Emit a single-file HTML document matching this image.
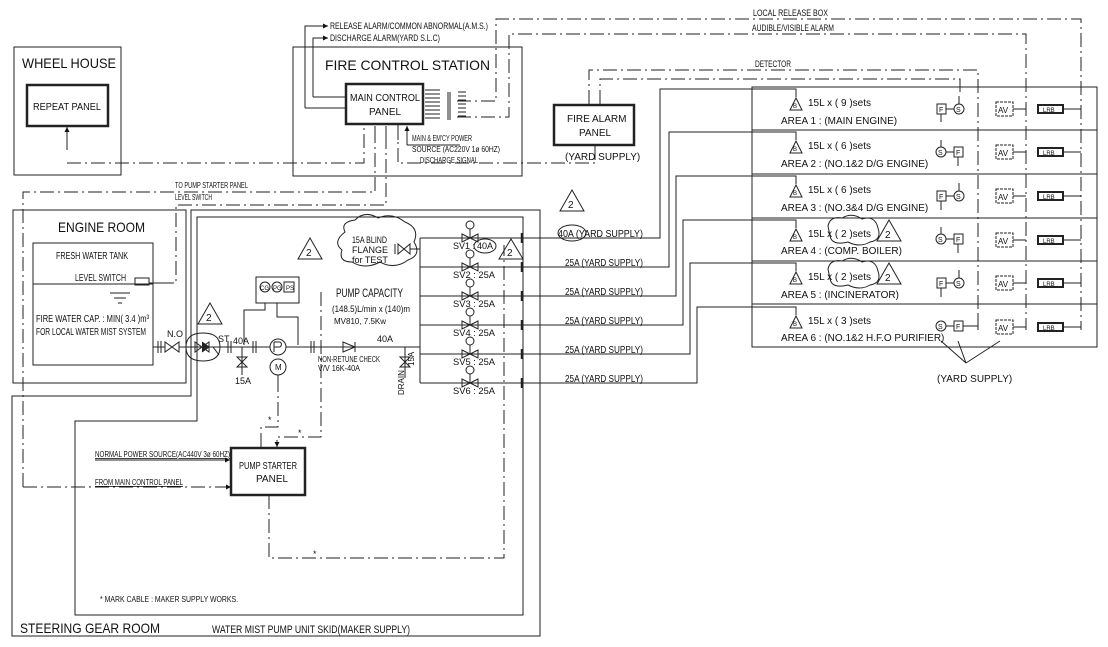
<!DOCTYPE html>
<html><head><meta charset="utf-8"><style>
html,body{margin:0;padding:0;background:#fff;width:1108px;height:647px;overflow:hidden}
svg{display:block}
text{font-family:"Liberation Sans Narrow","Liberation Sans",sans-serif;fill:#111}
.s{font-size:9px}
.m{font-size:10px}
.l{font-size:14px;font-family:"Liberation Sans",sans-serif;fill:#333}
</style></head><body>
<svg width="1108" height="647" viewBox="0 0 1108 647" xmlns="http://www.w3.org/2000/svg">
<defs>
<marker id="a" markerWidth="6" markerHeight="6" refX="5" refY="3" orient="auto"><path d="M0,0.5 L5,3 L0,5.5z" fill="#111"/></marker>
</defs>
<g fill="none" stroke="#222" stroke-width="1">
<rect x="14" y="47" width="107" height="128"/>
<rect x="27" y="85" width="81" height="41" stroke-width="2.5"/>
<rect x="293" y="47" width="229" height="129"/>
<rect x="346" y="84" width="77" height="40" stroke-width="2.5"/>
<rect x="554" y="105" width="80" height="40" stroke-width="2.5"/>
<rect x="13" y="210" width="173" height="173"/>
<rect x="33" y="243" width="120" height="122"/>
<line x1="33" y1="284" x2="153" y2="284"/>
<path d="M191,210 H540 V636 H12 V396 H191 Z"/>
<path d="M197,217 H523 V615 H75 V421 H197 Z"/>
<rect x="231" y="448" width="74" height="47" stroke-width="2.5"/>
<rect x="752" y="87" width="345" height="260"/>
<line x1="752" y1="130" x2="1097" y2="130"/><line x1="752" y1="174" x2="1097" y2="174"/>
<line x1="752" y1="218" x2="1097" y2="218"/><line x1="752" y1="261" x2="1097" y2="261"/>
<line x1="752" y1="304" x2="1097" y2="304"/>
</g>
<g fill="none" stroke="#222" stroke-width="1" stroke-dasharray="14,4,2,4">
<path d="M67,163 H364 V124"/>
<path d="M23,487 V192 H375 V124"/>
<path d="M160,283 H176 V205 H386 V124"/>
<path d="M595,145 V163 H398 V124"/>
<path d="M457,101 H496 V19 H1081 V330"/>
<path d="M457,117 H509 V34 H1026 V330"/>
<path d="M589,104 V70 H978 V330"/>
<path d="M600,104 V79 H960 V96"/>
<path d="M23,487 H231" marker-end="url(#a)"/>
<path d="M278,378 V427 H261 V448"/>
<path d="M321,292 H321 V437 H277 V447" marker-end="url(#a)"/>
<path d="M269,495 V558 H504 V245"/>
<path d="M475,238 H503"/><path d="M475,267 H503"/><path d="M475,296 H503"/>
<path d="M475,325 H503"/><path d="M475,354 H503"/><path d="M475,383 H503"/>
</g>
<g fill="none" stroke="#222" stroke-width="1">
<path d="M67,150 V127" marker-end="url(#a)"/>
<path d="M305,108 V26 H328" marker-end="url(#a)"/>
<path d="M313,97 V38 H328" marker-end="url(#a)"/>
<path d="M305,108 H346 M313,97 H346"/>
<path d="M375,140 V126 M386,140 V126 M398,140 V126 M407,145 V126" marker-end="url(#a)"/>
<path d="M407,145 H460"/>
<path d="M425,90 H440 M425,94 H440 M425,98 H440 M425,102 H440 M425,106 H440 M425,110 H440 M425,114 H440 M425,118 H440"/>
<path d="M448,92 V120 M450,92 V120"/>
<path d="M458,92 H466 M458,96 H466 M458,100 H466 M458,104 H466 M458,108 H466 M458,112 H466 M458,116 H466"/>
<path d="M595,145 V160"/>
<path d="M95,460 H230" marker-end="url(#a)"/>
<path d="M153,347 H420"/>
<path d="M420,238 V383"/>
<path d="M420,238 H660 V89 H757 M420,267 H669 V132 H757 M420,296 H676 V176 H757 M420,325 H683 V220 H757 M420,354 H690 V263 H757 M420,383 H697 V307 H757"/>
<path d="M420,249 H410"/>
<path d="M757,89 H796 V97 M757,132 H796 V140 M757,176 H796 V184 M757,220 H796 V228 M757,263 H796 V271 M757,307 H796 V315"/>
<path d="M278,380 V372"/>
<path d="M242,347 V375 M405,347 V378"/>
<rect x="256" y="277" width="43" height="26"/>
<circle cx="265" cy="287" r="5"/><circle cx="277" cy="287" r="5"/><rect x="284" y="282" width="10" height="10"/>
<path d="M265,303 V310 H244 V345 M277,303 V317 H298 V345"/>
<circle cx="278" cy="347" r="8" fill="#fff"/>
<path d="M274,342 V352 M274,342 H280 Q283,344 280,347 H274"/>
<circle cx="278" cy="367" r="8" fill="#fff"/>
<path d="M165,342 L179,352 V342 L165,352 Z" fill="#fff"/>
<path d="M195,342 L209,352 V342 L195,352 Z"/><path d="M202,342 L209,347 L202,352" fill="#222"/>
<path d="M343,342 V352 L355,347 Z M355,342 V352"/>
<path d="M237,357 H247 L237,367 H247 Z"/>
<path d="M400,357 H410 L400,367 H410 Z"/>
<path d="M158,341 V353 M161,341 V353 M228,341 V353 M231,341 V353 M253,341 V353 M256,341 V353 M311,341 V353 M314,341 V353"/>
<path d="M213,347 L219,355"/>
<path d="M186,347 Q186,333 203,333 Q220,333 220,347 Q220,361 203,361 Q186,361 186,347Z"/>
<path d="M345,232 Q340,222 355,220 Q365,210 378,218 Q392,212 405,222 Q420,228 414,242 Q422,255 408,260 Q395,270 380,262 Q365,270 352,262 Q338,262 342,250 Q332,242 345,232Z"/>
<path d="M395,244 V254 M398,244 L410,254 V244 L398,254 Z M410,249 H420"/>
<g>
<path d="M462,234 L470,238 L462,242Z M478,234 L470,238 L478,242Z"/><circle cx="470" cy="225" r="4"/><path d="M470,229 V238"/>
<path d="M462,263 L470,267 L462,271Z M478,263 L470,267 L478,271Z"/><circle cx="470" cy="254" r="4"/><path d="M470,258 V267"/>
<path d="M462,292 L470,296 L462,300Z M478,292 L470,296 L478,300Z"/><circle cx="470" cy="283" r="4"/><path d="M470,287 V296"/>
<path d="M462,321 L470,325 L462,329Z M478,321 L470,325 L478,329Z"/><circle cx="470" cy="312" r="4"/><path d="M470,316 V325"/>
<path d="M462,350 L470,354 L462,358Z M478,350 L470,354 L478,358Z"/><circle cx="470" cy="341" r="4"/><path d="M470,345 V354"/>
<path d="M462,379 L470,383 L462,387Z M478,379 L470,383 L478,387Z"/><circle cx="470" cy="370" r="4"/><path d="M470,374 V383"/>
</g>
<g stroke-width="2.5"><path d="M522,233 V243 M522,262 V272 M522,291 V301 M522,320 V330 M522,349 V359 M522,378 V388"/></g>
<rect x="135" y="278" width="14" height="7"/><path d="M149,283 H160"/>
<path d="M110,293 H130 M114,298 H126 M118,303 H122"/>
<path d="M298,259 L310,238 L322,259Z M198,324 L210,303 L222,324Z M560,211 L572,190 L584,211Z M499,259 L511,239 L523,259Z M877,241 L889,220 L901,241Z M877,284 L889,263 L901,284Z"/>
<ellipse cx="572" cy="233" rx="14" ry="8"/>
<ellipse cx="485" cy="246" rx="11" ry="7"/>
<path d="M828,226 Q830,216 842,218 Q852,212 862,219 Q875,215 878,228 Q882,240 870,242 Q860,248 848,242 Q832,246 830,236Z"/>
<path d="M828,269 Q830,259 842,261 Q852,255 862,262 Q875,258 878,271 Q882,283 870,285 Q860,291 848,285 Q832,289 830,279Z"/>
<path d="M941,341 L966,363 M958,341 L966,363 M1000,341 L966,363"/>
</g>
<g fill="none" stroke="#222" stroke-width="1">
<g id="r1">
<path d="M790,110 L796,98 L802,110Z"/>
<rect x="996" y="102" width="17" height="14" stroke-dasharray="3,1"/><path d="M1013,109 H1026 M1063,109 H1081"/>
<rect x="1038" y="105" width="25" height="8" stroke-width="2"/>
</g>
<use href="#r1" y="43"/><use href="#r1" y="87"/><use href="#r1" y="131"/><use href="#r1" y="174"/><use href="#r1" y="218"/>
<rect x="937" y="104" width="9" height="10"/><circle cx="959" cy="109" r="5"/><path d="M946,109 H954 M941,114 V122 M959,104 V96"/>
<circle cx="941" cy="152" r="5"/><rect x="954" y="147" width="9" height="10"/><path d="M946,152 H954 M941,147 V140 M958,157 V166"/>
<rect x="937" y="191" width="9" height="10"/><circle cx="959" cy="196" r="5"/><path d="M946,196 H954 M941,201 V210 M959,191 V183"/>
<circle cx="941" cy="239" r="5"/><rect x="954" y="234" width="9" height="10"/><path d="M946,239 H954 M941,234 V227 M958,244 V253"/>
<rect x="937" y="278" width="9" height="10"/><circle cx="959" cy="283" r="5"/><path d="M946,283 H954 M941,288 V297 M959,278 V270"/>
<circle cx="941" cy="326" r="5"/><rect x="954" y="321" width="9" height="10"/><path d="M946,326 H954 M963,326 H978 V315"/>
</g>
<g class="s">
<text x="793" y="108" font-size="6">B</text><text x="793" y="151" font-size="6">B</text><text x="793" y="195" font-size="6">B</text><text x="793" y="239" font-size="6">B</text><text x="793" y="282" font-size="6">B</text><text x="793" y="326" font-size="6">B</text>
<text x="939" y="112" font-size="7">F</text><text x="956" y="112" font-size="7">S</text>
<text x="938" y="155" font-size="7">S</text><text x="956" y="155" font-size="7">F</text>
<text x="939" y="199" font-size="7">F</text><text x="956" y="199" font-size="7">S</text>
<text x="938" y="242" font-size="7">S</text><text x="956" y="242" font-size="7">F</text>
<text x="939" y="286" font-size="7">F</text><text x="956" y="286" font-size="7">S</text>
<text x="938" y="329" font-size="7">S</text><text x="956" y="329" font-size="7">F</text>
<text x="998" y="113" font-size="8">AV</text><text x="998" y="156" font-size="8">AV</text><text x="998" y="200" font-size="8">AV</text><text x="998" y="244" font-size="8">AV</text><text x="998" y="287" font-size="8">AV</text><text x="998" y="331" font-size="8">AV</text>
<text x="1043" y="112" font-size="6">LRB</text><text x="1043" y="155" font-size="6">LRB</text><text x="1043" y="199" font-size="6">LRB</text><text x="1043" y="243" font-size="6">LRB</text><text x="1043" y="286" font-size="6">LRB</text><text x="1043" y="330" font-size="6">LRB</text>
</g>
<g class="m">
<text x="808" y="106">15L x ( 9 )sets</text><text x="781" y="124">AREA 1 :  (MAIN ENGINE)</text>
<text x="808" y="149">15L x ( 6 )sets</text><text x="781" y="167">AREA 2 :  (NO.1&amp;2 D/G ENGINE)</text>
<text x="808" y="193">15L x ( 6 )sets</text><text x="781" y="211">AREA 3 :  (NO.3&amp;4 D/G ENGINE)</text>
<text x="808" y="237">15L x ( 2 )sets</text><text x="781" y="254">AREA 4 :  (COMP. BOILER)</text>
<text x="808" y="280">15L x ( 2 )sets</text><text x="781" y="298">AREA 5 :  (INCINERATOR)</text>
<text x="808" y="324">15L x ( 3 )sets</text><text x="781" y="341">AREA 6 :  (NO.1&amp;2 H.F.O PURIFIER)</text>
<text x="937" y="382">(YARD SUPPLY)</text>
<text x="885" y="238">2</text><text x="885" y="281">2</text>
</g>
<g class="l">
<text x="22" y="68" textLength="94" lengthAdjust="spacingAndGlyphs">WHEEL HOUSE</text>
<text x="325" y="70" textLength="165" lengthAdjust="spacingAndGlyphs">FIRE CONTROL STATION</text>
<text x="58" y="232" textLength="87" lengthAdjust="spacingAndGlyphs">ENGINE ROOM</text>
<text x="20" y="633" textLength="140" lengthAdjust="spacingAndGlyphs">STEERING GEAR ROOM</text>
</g>
<g class="m">
<text x="33" y="110" textLength="68" lengthAdjust="spacingAndGlyphs">REPEAT PANEL</text>
<text x="350" y="101" textLength="70" lengthAdjust="spacingAndGlyphs">MAIN CONTROL</text><text x="369" y="115">PANEL</text>
<text x="567" y="122">FIRE ALARM</text><text x="579" y="136">PANEL</text>
<text x="565" y="160">(YARD SUPPLY)</text>
<text x="239" y="469" textLength="58" lengthAdjust="spacingAndGlyphs">PUMP STARTER</text><text x="256" y="482">PANEL</text>
<text x="56" y="259" textLength="72" lengthAdjust="spacingAndGlyphs">FRESH WATER TANK</text>
<text x="75" y="281" textLength="51" lengthAdjust="spacingAndGlyphs">LEVEL SWITCH</text>
<text x="36" y="322" textLength="113" lengthAdjust="spacingAndGlyphs">FIRE WATER CAP. : MIN( 3.4 )m³</text>
<text x="36" y="335" textLength="110" lengthAdjust="spacingAndGlyphs">FOR LOCAL WATER MIST SYSTEM</text>
<text x="212" y="633" font-size="11" textLength="198" lengthAdjust="spacingAndGlyphs">WATER MIST PUMP UNIT SKID(MAKER SUPPLY)</text>
<text x="336" y="297" font-size="12" textLength="67" lengthAdjust="spacingAndGlyphs">PUMP CAPACITY</text>
<text x="558" y="237" textLength="85" lengthAdjust="spacingAndGlyphs">40A  (YARD SUPPLY)</text>
<text x="565" y="266" textLength="78" lengthAdjust="spacingAndGlyphs">25A  (YARD SUPPLY)</text>
<text x="565" y="295" textLength="78" lengthAdjust="spacingAndGlyphs">25A  (YARD SUPPLY)</text>
<text x="565" y="324" textLength="78" lengthAdjust="spacingAndGlyphs">25A  (YARD SUPPLY)</text>
<text x="565" y="353" textLength="78" lengthAdjust="spacingAndGlyphs">25A  (YARD SUPPLY)</text>
<text x="565" y="382" textLength="78" lengthAdjust="spacingAndGlyphs">25A  (YARD SUPPLY)</text>
<text x="306" y="256">2</text><text x="206" y="321">2</text><text x="568" y="208">2</text><text x="507" y="256">2</text>
</g>
<g class="s">
<text x="330" y="29" textLength="158" lengthAdjust="spacingAndGlyphs">RELEASE ALARM/COMMON ABNORMAL(A.M.S.)</text>
<text x="330" y="41" textLength="110" lengthAdjust="spacingAndGlyphs">DISCHARGE ALARM(YARD S.L.C)</text>
<text x="753" y="16" textLength="75" lengthAdjust="spacingAndGlyphs">LOCAL RELEASE BOX</text>
<text x="752" y="31" textLength="82" lengthAdjust="spacingAndGlyphs">AUDIBLE/VISIBLE ALARM</text>
<text x="755" y="67" textLength="36" lengthAdjust="spacingAndGlyphs">DETECTOR</text>
<text x="412" y="141" font-size="8" textLength="60" lengthAdjust="spacingAndGlyphs">MAIN &amp; EM'CY POWER</text>
<text x="412" y="152" font-size="8" textLength="88" lengthAdjust="spacingAndGlyphs">SOURCE (AC220V 1ø 60HZ)</text>
<text x="420" y="163" font-size="8" textLength="58" lengthAdjust="spacingAndGlyphs">DISCHARGE SIGNAL</text>
<text x="175" y="188" font-size="8" textLength="73" lengthAdjust="spacingAndGlyphs">TO PUMP STARTER PANEL</text>
<text x="175" y="200" font-size="8" textLength="37" lengthAdjust="spacingAndGlyphs">LEVEL SWITCH</text>
<text x="352" y="243" textLength="35" lengthAdjust="spacingAndGlyphs">15A BLIND</text><text x="352" y="253">FLANGE</text><text x="352" y="263">for TEST</text>
<text x="332" y="312" textLength="78" lengthAdjust="spacingAndGlyphs">(148.5)L/min x (140)m</text>
<text x="334" y="324" font-size="8">MV810, 7.5Kw</text>
<text x="318" y="362" font-size="8" textLength="62" lengthAdjust="spacingAndGlyphs">NON-RETUNE CHECK</text><text x="318" y="371" font-size="8" textLength="42" lengthAdjust="spacingAndGlyphs">V/V 16K-40A</text>
<text x="377" y="342">40A</text><text x="233" y="344">40A</text><text x="235" y="384">15A</text>
<text x="167" y="337">N.O</text><text x="218" y="342">ST</text>
<text x="453" y="249">SV1 :</text><text x="477" y="249">40A</text>
<text x="453" y="278" textLength="42" lengthAdjust="spacingAndGlyphs">SV2 :   25A</text><text x="453" y="307" textLength="42" lengthAdjust="spacingAndGlyphs">SV3 :   25A</text>
<text x="453" y="336" textLength="42" lengthAdjust="spacingAndGlyphs">SV4 :   25A</text><text x="453" y="365" textLength="42" lengthAdjust="spacingAndGlyphs">SV5 :   25A</text><text x="453" y="394" textLength="42" lengthAdjust="spacingAndGlyphs">SV6 :   25A</text>
<text x="95" y="457" font-size="8" text-decoration="underline" textLength="135" lengthAdjust="spacingAndGlyphs">NORMAL POWER SOURCE(AC440V 3ø 60HZ)</text>
<text x="95" y="485" font-size="8" text-decoration="underline" textLength="88" lengthAdjust="spacingAndGlyphs">FROM MAIN CONTROL PANEL</text>
<text x="100" y="602" font-size="8" textLength="138" lengthAdjust="spacingAndGlyphs">* MARK CABLE : MAKER SUPPLY WORKS.</text>
<text x="268" y="423">*</text><text x="298" y="436">*</text><text x="313" y="557">*</text>
<text x="260" y="290" font-size="6">CG</text><text x="273" y="290" font-size="6">PG</text><text x="286" y="290" font-size="6">PS</text>
<text x="275" y="370" font-size="8">M</text>
</g>
<text transform="translate(404,395) rotate(-90)" font-size="8">DRAIN</text>
<text transform="translate(414,366) rotate(-90)" font-size="8">15A</text>
</svg>
</body></html>
